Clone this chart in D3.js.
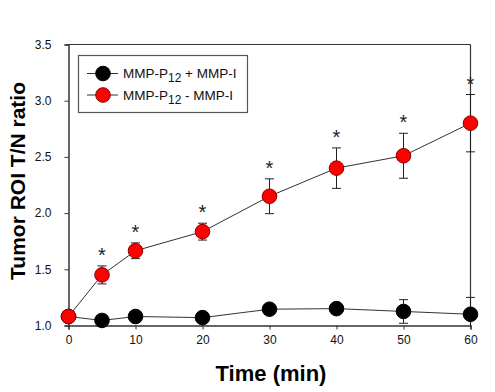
<!DOCTYPE html>
<html lang="en">
<head>
    <meta charset="UTF-8">
    <title>Tumor ROI T/N ratio</title>
    <script src="https://cdn.jsdelivr.net/npm/d3@7"></script>
    <style>
        body { margin: 0; background: #fff; }
        text { font-family: Arial, "Liberation Sans", sans-serif; }
    </style>
</head>
<body>
<svg></svg>
<script>
    var width = 495;
    var height = 392;

    // data
    var times = [0, 5, 10, 20, 30, 40, 50, 60];
    var withInhibitor = [1.08, 1.045, 1.08, 1.07, 1.145, 1.15, 1.125, 1.10];
    var withInhibitorErr = [0.02, 0.02, 0.02, 0.02, 0.04, 0.04, 0.105, 0.15];
    var noInhibitor = [1.08, 1.45, 1.665, 1.835, 2.15, 2.40, 2.51, 2.80];
    var noInhibitorErr = [0.02, 0.08, 0.07, 0.075, 0.155, 0.18, 0.20, 0.255];
    var significant = [false, true, true, true, true, true, true, true];
    var xTicks = [0, 10, 20, 30, 40, 50, 60];
    var yTicks = [1.0, 1.5, 2.0, 2.5, 3.0, 3.5];

    var svg = d3.select('svg')
        .attr('width', width)
        .attr('height', height);

    var x = d3.scaleLinear().domain([0, 60]).range([68.5, 470.5]);
    var y = d3.scaleLinear().domain([1.0, 3.5]).range([325.5, 44.5]);

    // frame (left/bottom axis + top/right lines)
    svg.append('line').attr('x1', x(0)).attr('x2', x(60)).attr('y1', y(3.5)).attr('y2', y(3.5))
        .attr('stroke', '#333').attr('stroke-width', 1.2);
    svg.append('line').attr('x1', x(60)).attr('x2', x(60)).attr('y1', y(3.5)).attr('y2', y(1.0))
        .attr('stroke', '#333').attr('stroke-width', 1.2);

    var xAxis = svg.append('g')
        .attr('transform', 'translate(0,' + y(1.0) + ')')
        .call(d3.axisBottom(x).tickValues(xTicks).tickSize(4).tickPadding(6).tickFormat(d3.format('d')));
    var yAxis = svg.append('g')
        .attr('transform', 'translate(' + x(0) + ',0)')
        .call(d3.axisLeft(y).tickValues(yTicks).tickSize(4).tickPadding(13).tickFormat(d3.format('.1f')));
    [xAxis, yAxis].forEach(function(g) {
        g.select('.domain').attr('stroke', '#333').attr('stroke-width', 1.5);
        g.selectAll('.tick line').attr('stroke', '#333');
        g.selectAll('.tick text').attr('font-size', 12).attr('fill', '#111')
            .attr('font-family', 'Arial, "Liberation Sans", sans-serif');
    });

    // axis titles
    svg.append('text')
        .attr('transform', 'translate(25,' + 181 + ') rotate(-90)')
        .attr('text-anchor', 'middle')
        .attr('font-size', 21).attr('font-weight', 'bold')
        .text('Tumor ROI T/N ratio');
    svg.append('text')
        .attr('x', 271).attr('y', 381)
        .attr('text-anchor', 'middle')
        .attr('font-size', 22).attr('font-weight', 'bold')
        .text('Time (min)');

    var series = [
        { vals: withInhibitor, err: withInhibitorErr, fill: '#000', stroke: '#000' },
        { vals: noInhibitor, err: noInhibitorErr, fill: '#f00', stroke: '#8b0000' }
    ];

    var clip = svg.append('clipPath').attr('id', 'plot')
        .append('rect').attr('x', x(0) - 10).attr('y', y(3.5)).attr('width', x(60) - x(0) + 20).attr('height', y(1.0) - y(3.5));

    var line = d3.line()
        .x(function(d, i) { return x(times[i]); })
        .y(function(d) { return y(d); });

    series.forEach(function(s) {
        var g = svg.append('g').attr('clip-path', 'url(#plot)');
        g.append('path')
            .attr('d', line(s.vals))
            .attr('fill', 'none')
            .attr('stroke', '#333')
            .attr('stroke-width', 1);
        var eb = g.selectAll('.eb').data(s.vals).enter().append('g');
        eb.append('line')
            .attr('x1', function(d, i) { return x(times[i]); })
            .attr('x2', function(d, i) { return x(times[i]); })
            .attr('y1', function(d, i) { return y(d + s.err[i]); })
            .attr('y2', function(d, i) { return y(d - s.err[i]); })
            .attr('stroke', '#222');
        [1, -1].forEach(function(sign) {
            eb.append('line')
                .attr('x1', function(d, i) { return x(times[i]) - 4.5; })
                .attr('x2', function(d, i) { return x(times[i]) + 4.5; })
                .attr('y1', function(d, i) { return y(d + sign * s.err[i]); })
                .attr('y2', function(d, i) { return y(d + sign * s.err[i]); })
                .attr('stroke', '#222');
        });
    });

    // markers drawn on top
    series.forEach(function(s) {
        svg.append('g').selectAll('circle').data(s.vals).enter().append('circle')
            .attr('cx', function(d, i) { return x(times[i]); })
            .attr('cy', function(d) { return y(d); })
            .attr('r', 7.3)
            .attr('fill', s.fill)
            .attr('stroke', s.stroke)
            .attr('stroke-width', 1);
    });

    // significance stars
    svg.append('g').selectAll('text')
        .data(noInhibitor.filter(function(d, i) { return significant[i]; }))
        .enter().append('text')
        .attr('x', function(d) { return x(times[noInhibitor.indexOf(d)]); })
        .attr('y', function(d) { var i = noInhibitor.indexOf(d); return y(d + noInhibitorErr[i]) - 4; })
        .attr('text-anchor', 'middle')
        .attr('font-size', 20)
        .attr('fill', '#222')
        .text('*');

    // legend
    var legend = svg.append('g');
    legend.append('rect')
        .attr('x', 78.5).attr('y', 55.5).attr('width', 169).attr('height', 57)
        .attr('fill', '#fff').attr('stroke', '#555').attr('stroke-width', 1.2);
    var labels = [['MMP-P', '12', ' + MMP-I'], ['MMP-P', '12', ' - MMP-I']];
    series.forEach(function(s, i) {
        var ly = 73.5 + i * 21.5;
        legend.append('line').attr('x1', 87).attr('x2', 118).attr('y1', ly).attr('y2', ly)
            .attr('stroke', '#333');
        legend.append('circle').attr('cx', 103).attr('cy', ly).attr('r', 7.3)
            .attr('fill', s.fill).attr('stroke', s.stroke);
        var t = legend.append('text').attr('x', 123).attr('y', ly + 4.5)
            .attr('font-size', 13.5).attr('fill', '#111');
        t.append('tspan').text(labels[i][0]);
        t.append('tspan').attr('dy', 4).attr('font-size', 12).text(labels[i][1]);
        t.append('tspan').attr('dy', -4).text(labels[i][2]);
    });
</script>
</body>
</html>
